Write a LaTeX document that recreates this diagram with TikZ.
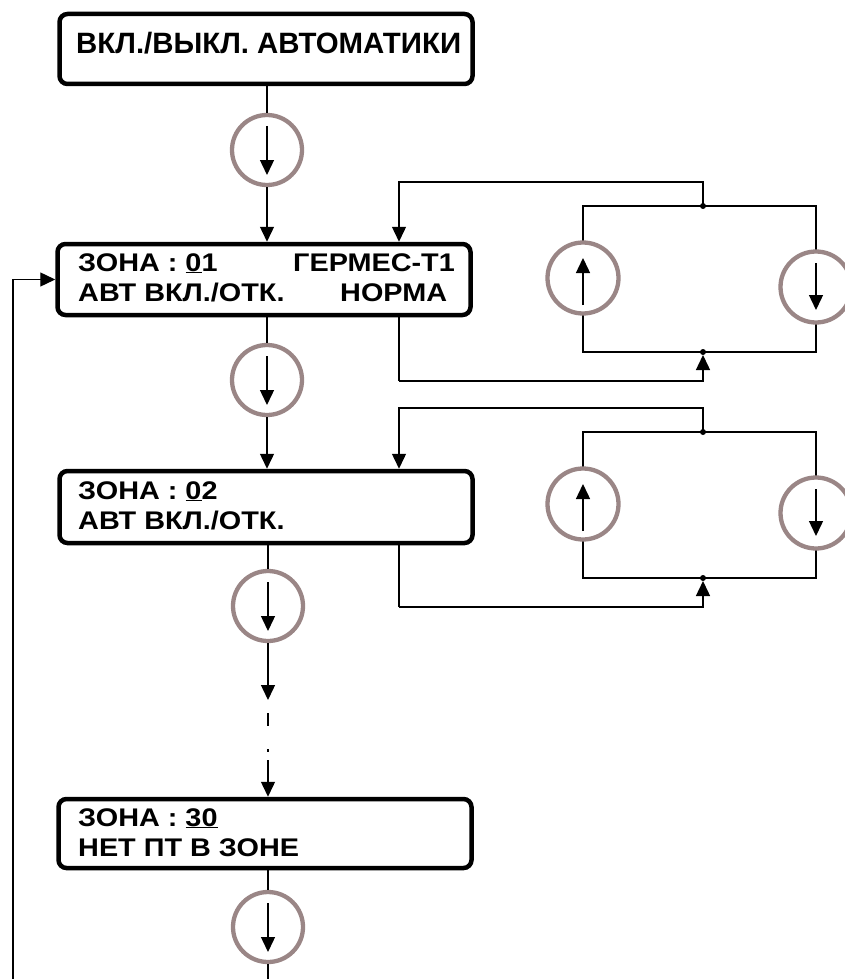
\documentclass[tikz,border=0pt]{standalone}
\usepackage{fontspec}
\setmainfont{Liberation Sans}
\newfontfamily\boxfont[FakeStretch=1.13]{Liberation Sans}
\usetikzlibrary{arrows.meta,calc}
\definecolor{ringc}{RGB}{154,134,134}
\begin{document}
\begin{tikzpicture}[x=1pt,y=-1pt,
  lcd/.style={draw=black,line width=4.5pt,rounded corners=8pt,minimum width=413pt,inner sep=0pt},
  ring/.style={circle,draw=ringc,line width=4.3pt,fill=white,minimum size=70pt,inner sep=0pt},
  wire/.style={line width=1.4pt},
  arr/.style={wire,-{Triangle[length=15pt,width=14pt]}},
  txt/.style={anchor=base west,inner sep=0pt,font=\boxfont\bfseries\fontsize{25.5}{25.5}\selectfont},
  jdot/.style={circle,fill=black,inner sep=0pt,minimum size=6pt}
]
\useasboundingbox (0,0) rectangle (845,979);
\begin{scope}
\clip (0,0) rectangle (845,979);

% boxes
\node[lcd,minimum height=70pt] (box1) at (266,49) {};
\node[lcd,minimum height=71pt] (box2) at (264,279.5) {};
\node[lcd,minimum height=72pt] (box3) at (266,507) {};
\node[lcd,minimum height=69pt] (box4) at (265,833.5) {};

% texts
\node[txt,font=\bfseries\fontsize{29.4}{29.4}\selectfont] (t1) at (76,54) {ВКЛ./ВЫКЛ. АВТОМАТИКИ};
\node[txt] (t2a) at (78,271) {ЗОНА : \underline{0}1};
\node[txt] (t2b) at (293,271) {ГЕРМЕС-Т1};
\node[txt] (t2c) at (78,301) {АВТ ВКЛ./ОТК.};
\node[txt] (t2d) at (340,301) {НОРМА};
\node[txt] (t3a) at (78,499) {ЗОНА : \underline{0}2};
\node[txt] (t3b) at (78,529) {АВТ ВКЛ./ОТК.};
\node[txt] (t4a) at (78,826) {ЗОНА : \underline{30}};
\node[txt] (t4b) at (78,856) {НЕТ ПТ В ЗОНЕ};

% main column rings
\node[ring] (c1) at (267,150) {};
\node[ring] (c2) at (267,380) {};
\node[ring] (c3) at (268,606) {};
\node[ring] (c4) at (268,927) {};

\foreach \r in {c1,c2,c3,c4}{
  \draw[arr] ($(\r.center)+(0,-24)$) -- ($(\r.center)+(0,25)$);
}

% main column connectors
\draw[wire] (box1.south -| c1) -- (c1.north);
\draw[arr] (c1.south) -- (c1.south |- box2.north);
\draw[wire] (box2.south -| c2) -- (c2.north);
\draw[arr] (c2.south) -- (c2.south |- box3.north);
\draw[wire] (box3.south -| c3) -- (c3.north);
\coordinate (m1) at (268,700);
\coordinate (m2) at (268,713);
\coordinate (m3) at (268,726);
\coordinate (m4) at (268,749);
\coordinate (m5) at (268,752);
\coordinate (m6) at (268,760);
\draw[arr] (c3.south) -- (m1);
\draw[wire] (m2) -- (m3);
\draw[wire] (m4) -- (m5);
\draw[arr] (m6) -- (m6 |- box4.north);
\draw[wire] (box4.south -| c4) -- (c4.north);
\coordinate (bot) at (268,979);
\draw[wire] (c4.south) -- (bot);

% feedback line
\coordinate (fb) at (13,979);
\draw[arr] (fb) |- (box2.west);

% side loops
\foreach \dy/\b/\n in {0/box2/a,226/box3/b}{
  \coordinate (\n top) at (399,182+\dy);
  \coordinate (\n bot) at (399,381+\dy);
  \coordinate (\n j1) at (703,206+\dy);
  \coordinate (\n j2) at (703,352+\dy);
  \coordinate (\n r1) at (583,206+\dy);
  \coordinate (\n r2) at (816,206+\dy);
  \coordinate (\n r3) at (816,352+\dy);
  \coordinate (\n r4) at (583,352+\dy);
  \draw[wire] (\n r1) -- (\n r2) -- (\n r3) -- (\n r4) -- cycle;
  \node[ring,minimum size=71pt] (\n L) at (583,278+\dy) {};
  \node[ring,minimum size=71pt] (\n R) at (816,287+\dy) {};
  \draw[arr] ($(\n L.center)+(0,27)$) -- ($(\n L.center)+(0,-20)$);
  \draw[arr] ($(\n R.center)+(0,-24)$) -- ($(\n R.center)+(0,23)$);
  \draw[arr] (\n j1) |- (\n top) -- (\n top |- \b.north);
  \draw[wire] (\n top |- \b.south) -- (\n bot);
  \draw[arr] (\n bot) -| ($(\n j2)+(0,3)$);
  \node[jdot] (\n d1) at (\n j1) {};
  \node[jdot] (\n d2) at (\n j2) {};
}
\end{scope}
\end{tikzpicture}
\end{document}
